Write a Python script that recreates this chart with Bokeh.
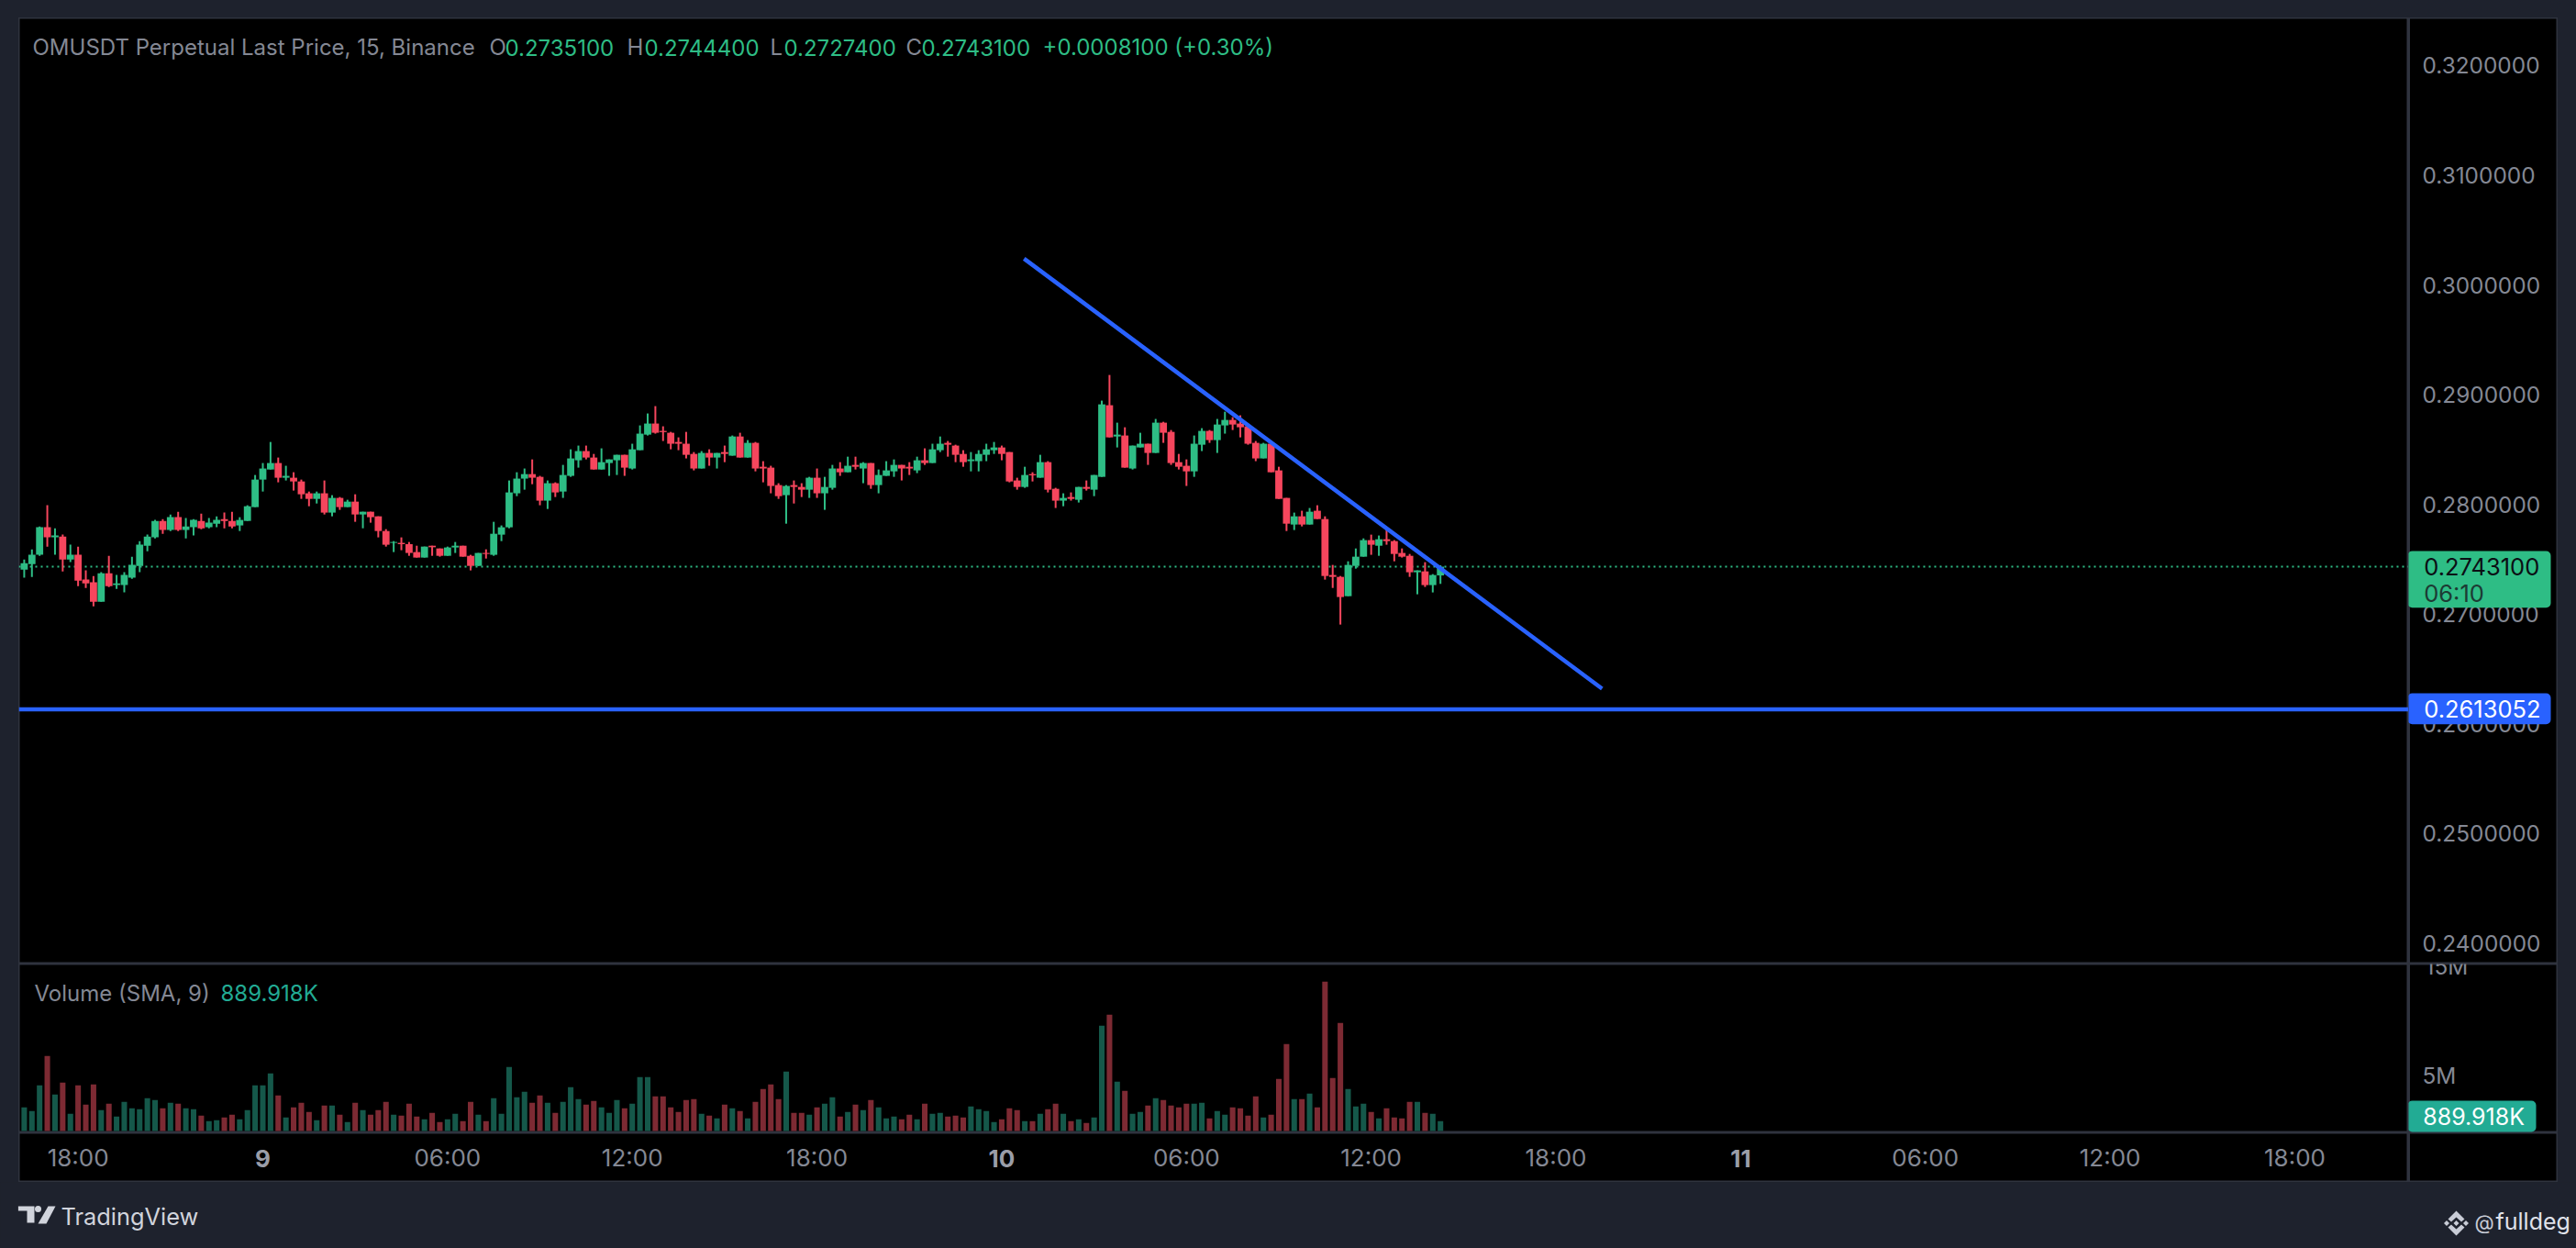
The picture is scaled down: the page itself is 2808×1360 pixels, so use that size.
from bokeh.plotting import figure
from bokeh.layouts import column, row
from bokeh.models import (Range1d, FixedTicker, NumeralTickFormatter, Label, Span, BoxAnnotation, LinearAxis)
from bokeh.embed import file_html
from bokeh.resources import INLINE

open_ = [
0.27405,0.27455,0.27539,0.27790,0.27698,0.27706,0.27497,0.27539,0.27313,0.27288,
0.27112,0.27371,0.27263,0.27263,0.27330,0.27438,0.27622,0.27698,0.27848,0.27765,
0.27882,0.27765,0.27790,0.27848,0.27790,0.27823,0.27865,0.27848,0.27807,0.27848,
0.27974,0.28225,0.28317,0.28376,0.28242,0.28242,0.28208,0.28100,0.28049,0.28100,
0.27924,0.28058,0.27974,0.28024,0.27907,0.27932,0.27890,0.27756,0.27648,0.27648,
0.27636,0.27564,0.27514,0.27622,0.27597,0.27530,0.27606,0.27622,0.27530,0.27438,
0.27556,0.27539,0.27723,0.27790,0.28100,0.28234,0.28275,0.28250,0.28033,0.28192,
0.28116,0.28259,0.28401,0.28485,0.28426,0.28317,0.28376,0.28401,0.28451,0.28326,
0.28493,0.28635,0.28736,0.28669,0.28652,0.28568,0.28552,0.28459,0.28326,0.28468,
0.28426,0.28476,0.28443,0.28618,0.28426,0.28560,0.28342,0.28334,0.28175,0.28083,
0.28175,0.28158,0.28133,0.28242,0.28100,0.28150,0.28326,0.28292,0.28359,0.28326,
0.28376,0.28175,0.28259,0.28300,0.28359,0.28342,0.28309,0.28401,0.28376,0.28493,
0.28560,0.28535,0.28459,0.28393,0.28393,0.28451,0.28493,0.28518,0.28476,0.28217,
0.28158,0.28275,0.28242,0.28384,0.28141,0.28033,0.28066,0.28041,0.28158,0.28133,
0.28250,0.28903,0.28618,0.28627,0.28326,0.28518,0.28552,0.28468,0.28744,0.28660,
0.28384,0.28351,0.28300,0.28543,0.28669,0.28585,0.28719,0.28769,0.28736,0.28711,
0.28560,0.28418,0.28552,0.28309,0.28058,0.27815,0.27890,0.27815,0.27941,0.27865,
0.27355,0.27338,0.27162,0.27438,0.27522,0.27673,0.27622,0.27681,0.27664,0.27556,
0.27530,0.27380,0.27388,0.27263,0.27351]
high = [
0.27497,0.27589,0.27798,0.27991,0.27781,0.27723,0.27631,0.27614,0.27397,0.27346,
0.27380,0.27530,0.27355,0.27380,0.27522,0.27664,0.27723,0.27857,0.27865,0.27907,
0.27932,0.27874,0.27865,0.27915,0.27874,0.27890,0.27924,0.27932,0.27882,0.27991,
0.28267,0.28376,0.28568,0.28426,0.28351,0.28292,0.28225,0.28116,0.28116,0.28217,
0.28083,0.28066,0.28041,0.28091,0.27932,0.27932,0.27890,0.27773,0.27664,0.27698,
0.27656,0.27622,0.27614,0.27622,0.27597,0.27614,0.27656,0.27622,0.27539,0.27556,
0.27589,0.27840,0.27807,0.28217,0.28292,0.28326,0.28409,0.28259,0.28217,0.28200,
0.28359,0.28501,0.28535,0.28535,0.28459,0.28510,0.28409,0.28451,0.28451,0.28552,
0.28719,0.28828,0.28895,0.28711,0.28660,0.28610,0.28660,0.28476,0.28485,0.28501,
0.28468,0.28535,0.28627,0.28652,0.28585,0.28568,0.28393,0.28351,0.28192,0.28175,
0.28217,0.28192,0.28250,0.28326,0.28250,0.28359,0.28384,0.28434,0.28434,0.28384,
0.28376,0.28317,0.28393,0.28409,0.28359,0.28384,0.28434,0.28510,0.28552,0.28618,
0.28577,0.28543,0.28493,0.28476,0.28493,0.28552,0.28568,0.28535,0.28476,0.28242,
0.28342,0.28292,0.28451,0.28393,0.28150,0.28100,0.28108,0.28158,0.28217,0.28267,
0.28945,0.29179,0.28744,0.28702,0.28535,0.28652,0.28552,0.28778,0.28752,0.28677,
0.28459,0.28409,0.28627,0.28694,0.28677,0.28778,0.28844,0.28794,0.28811,0.28719,
0.28577,0.28560,0.28577,0.28342,0.28058,0.27924,0.27941,0.27966,0.27991,0.27890,
0.27447,0.27346,0.27480,0.27597,0.27689,0.27723,0.27715,0.27790,0.27673,0.27597,
0.27547,0.27397,0.27472,0.27363,0.27444]
low = [
0.27330,0.27338,0.27530,0.27614,0.27539,0.27388,0.27472,0.27254,0.27237,0.27070,
0.27112,0.27246,0.27229,0.27196,0.27321,0.27380,0.27572,0.27689,0.27731,0.27756,
0.27756,0.27689,0.27715,0.27773,0.27781,0.27790,0.27781,0.27781,0.27756,0.27848,
0.27974,0.28116,0.28317,0.28200,0.28217,0.28125,0.28049,0.27982,0.28007,0.27907,
0.27890,0.27949,0.27974,0.27840,0.27781,0.27832,0.27698,0.27614,0.27564,0.27581,
0.27530,0.27514,0.27514,0.27530,0.27522,0.27530,0.27556,0.27522,0.27397,0.27438,
0.27505,0.27530,0.27664,0.27781,0.28074,0.28133,0.28183,0.27991,0.27957,0.28066,
0.28058,0.28250,0.28334,0.28409,0.28317,0.28317,0.28259,0.28267,0.28259,0.28317,
0.28493,0.28627,0.28644,0.28577,0.28501,0.28493,0.28418,0.28309,0.28326,0.28351,
0.28326,0.28384,0.28443,0.28426,0.28426,0.28300,0.28200,0.28100,0.28049,0.27823,
0.28007,0.28066,0.28058,0.28058,0.27949,0.28133,0.28259,0.28292,0.28317,0.28192,
0.28141,0.28100,0.28259,0.28250,0.28217,0.28267,0.28284,0.28359,0.28376,0.28476,
0.28434,0.28384,0.28342,0.28300,0.28300,0.28393,0.28459,0.28401,0.28200,0.28133,
0.28150,0.28208,0.28242,0.28108,0.27966,0.27982,0.28033,0.28016,0.28125,0.28074,
0.28250,0.28610,0.28518,0.28334,0.28317,0.28518,0.28359,0.28468,0.28560,0.28359,
0.28317,0.28167,0.28250,0.28485,0.28560,0.28468,0.28644,0.28677,0.28610,0.28543,
0.28393,0.28418,0.28292,0.28049,0.27756,0.27765,0.27798,0.27815,0.27865,0.27313,
0.27237,0.26903,0.27162,0.27413,0.27522,0.27539,0.27530,0.27631,0.27480,0.27514,
0.27338,0.27179,0.27246,0.27196,0.27274]
close = [
0.27463,0.27539,0.27790,0.27698,0.27715,0.27497,0.27539,0.27304,0.27279,0.27112,
0.27371,0.27254,0.27279,0.27355,0.27447,0.27631,0.27706,0.27848,0.27765,0.27882,
0.27765,0.27798,0.27857,0.27781,0.27832,0.27857,0.27848,0.27798,0.27857,0.27982,
0.28225,0.28326,0.28376,0.28242,0.28259,0.28208,0.28091,0.28049,0.28100,0.27924,
0.28058,0.27974,0.28024,0.27907,0.27932,0.27882,0.27756,0.27631,0.27656,0.27636,
0.27556,0.27514,0.27614,0.27608,0.27530,0.27606,0.27622,0.27522,0.27438,0.27556,
0.27547,0.27731,0.27790,0.28108,0.28234,0.28275,0.28242,0.28033,0.28192,0.28108,
0.28267,0.28418,0.28485,0.28426,0.28317,0.28384,0.28409,0.28451,0.28334,0.28501,
0.28644,0.28736,0.28652,0.28658,0.28552,0.28552,0.28451,0.28326,0.28468,0.28426,
0.28468,0.28459,0.28618,0.28426,0.28560,0.28326,0.28326,0.28167,0.28074,0.28167,
0.28158,0.28133,0.28242,0.28100,0.28158,0.28326,0.28292,0.28351,0.28342,0.28376,
0.28175,0.28267,0.28309,0.28359,0.28326,0.28326,0.28401,0.28376,0.28501,0.28552,
0.28543,0.28451,0.28384,0.28409,0.28459,0.28501,0.28518,0.28459,0.28208,0.28158,
0.28267,0.28264,0.28384,0.28133,0.28033,0.28058,0.28049,0.28158,0.28141,0.28267,
0.28911,0.28610,0.28635,0.28334,0.28535,0.28552,0.28468,0.28744,0.28652,0.28376,
0.28342,0.28300,0.28552,0.28669,0.28585,0.28727,0.28769,0.28727,0.28702,0.28552,
0.28418,0.28552,0.28292,0.28049,0.27823,0.27890,0.27815,0.27932,0.27865,0.27346,
0.27338,0.27154,0.27447,0.27522,0.27673,0.27631,0.27681,0.27664,0.27547,0.27522,
0.27380,0.27397,0.27263,0.27355,0.27431]
volume_m = [
2.14,1.81,4.14,6.81,3.31,4.39,1.56,4.14,2.39,4.22,
1.89,2.47,1.31,2.64,2.06,1.97,2.97,2.81,2.06,2.56,
2.47,2.06,1.97,1.39,0.89,0.97,1.22,1.47,1.06,1.89,
4.14,4.14,5.22,3.22,1.22,2.14,2.56,1.72,0.97,2.31,
2.31,1.47,0.81,2.56,1.89,1.47,1.89,2.64,1.47,1.39,
2.47,1.31,1.06,1.64,0.81,1.06,1.56,0.89,2.64,1.47,
0.89,2.97,1.56,5.81,3.06,3.56,2.56,3.22,2.56,1.64,
2.64,3.97,2.89,2.39,2.72,2.14,1.64,2.81,2.06,2.47,
4.89,4.89,3.14,3.14,2.14,1.72,2.81,2.89,1.56,1.39,
1.14,2.39,2.06,1.81,1.14,2.64,3.81,4.22,2.89,5.39,
1.64,1.64,1.47,2.14,2.47,3.06,1.31,1.72,2.39,1.89,
2.81,2.14,1.14,1.31,1.06,1.47,1.06,2.47,1.56,1.64,
1.31,1.39,1.22,2.22,1.97,1.81,0.81,1.06,2.06,1.89,
0.89,0.89,1.56,1.97,2.47,1.56,0.89,1.06,0.72,1.22,
9.56,10.56,4.47,3.64,1.56,1.72,2.31,2.97,2.81,2.31,
2.14,2.47,2.47,2.56,1.14,1.81,1.47,2.14,2.06,1.39,
3.14,1.22,1.47,4.72,7.89,2.89,2.89,3.39,2.14,13.56,
4.81,9.81,3.81,2.22,2.47,1.72,1.14,2.06,1.22,1.14,
2.64,2.64,1.64,1.56,0.89]

price_ticks = [0.24,0.25,0.26,0.27,0.28,0.29,0.30,0.31,0.32]
volume_ticks = {5: "5M"}
volume_top_tick = (15, "15M")
hour_ticks = {7:"18:00",55:"06:00",79:"12:00",103:"18:00",151:"06:00",175:"12:00",199:"18:00",247:"06:00",271:"12:00",295:"18:00"}
day_ticks = {31:"9",127:"10",223:"11"}
last_price = 0.27431
alert_price = 0.2613052
sma_label = "889.918K"
trend_x = [129.9, 205.0]
trend_y = [0.3024, 0.26318]

BG, LINE = "#1e222d", "#2f333e"
UP, DOWN, VUP, VDOWN = "#2ebd85", "#f6465d", "#15584a", "#7d2a33"
BLUE, GREY = "#2962ff", "#848894"
FONT = "Inter"
SZ = "24px"

x_rng = Range1d(-0.703, 309.78)
price_rng = Range1d(0.23808, 0.32435)
vol_rng = Range1d(-0.167, 15.167)

def lab(p, x, y, text, color, y_units="data", x_units="data", size=SZ):
    p.add_layout(Label(x=x, y=y, x_units=x_units, y_units=y_units, text=text, text_color=color,
                       text_font=FONT, text_font_size=size, text_align="left", text_baseline="middle",
                       level="overlay"))

def pane(w, h, xr, yr):
    p = figure(width=w, height=h, output_backend="svg", toolbar_location=None, tools="",
               x_range=xr, y_range=yr, x_axis_location=None, y_axis_location=None,
               background_fill_color="black", border_fill_color="black",
               outline_line_color=LINE, outline_line_width=2,
               min_border=0, min_border_left=0, min_border_right=0, min_border_top=0, min_border_bottom=0)
    p.grid.visible = False
    p.frame_align = False
    return p

def style_axis(a, size="24.4px", color=GREY, standoff=9):
    a.axis_line_color = None
    a.major_tick_line_color = None
    a.minor_tick_line_color = None
    a.major_label_text_color = color
    a.major_label_text_font = FONT
    a.major_label_text_font_size = size
    a.major_label_standoff = standoff

def tag(p, top, bottom, right, color):
    p.add_layout(BoxAnnotation(left=-1, right=right, top=top, bottom=bottom, fill_color=color, fill_alpha=1,
                               line_color=None, border_radius=5, level="overlay"))

xs = list(range(len(close)))
up = [c >= o for o, c in zip(open_, close)]
cols = [UP if u else DOWN for u in up]
vcols = [VUP if u else VDOWN for u in up]

# price pane
p1 = pane(2605, 1031, x_rng, price_rng)
p1.add_layout(Span(location=last_price, dimension="width", line_color=UP, line_width=2, line_dash="2 4", level="underlay"))
p1.segment(xs, low, xs, high, color=cols, line_width=2)
p1.vbar(x=xs, width=0.93, top=[max(a, b) for a, b in zip(open_, close)],
        bottom=[min(a, b) for a, b in zip(open_, close)], fill_color=cols, line_color=None)
p1.add_layout(Span(location=alert_price, dimension="width", line_color=BLUE, line_width=4.5))
p1.line(trend_x, trend_y, line_color=BLUE, line_width=4.5)
lab(p1, 15, 999, "OMUSDT Perpetual Last Price, 15, Binance", GREY, "screen", "screen")
for x, t, c in [(513, "O", GREY), (530, "0.2735100", UP), (663, "H", GREY), (682, "0.2744400", UP),
                (819, "L", GREY), (834, "0.2727400", UP), (967, "C", GREY), (984, "0.2743100", UP),
                (1116, "+0.0008100 (+0.30%)", UP)]:
    lab(p1, x, 999, t, c, "screen", "screen")

# price axis strip
r1 = pane(163, 1031, Range1d(0, 163), price_rng)
ax1 = LinearAxis(fixed_location=0, ticker=FixedTicker(ticks=price_ticks),
                 formatter=NumeralTickFormatter(format="0.0000000"))
style_axis(ax1)
r1.add_layout(ax1, "right")
r1.add_layout(Span(location=0, dimension="height", line_color=LINE, line_width=3))
tag(r1, 0.27573, 0.27057, 155, UP)
lab(r1, 16.7, last_price + 0.00001, "0.2743100", "#0b0e14", size="25.5px")
lab(r1, 16.7, 0.27192, "06:10", "#1c3b34", size="25.5px")
tag(r1, 0.26276, 0.25994, 155, BLUE)
lab(r1, 16.7, alert_price, "0.2613052", "white", size="25.5px")

# volume pane
p2 = pane(2605, 184, x_rng, vol_rng)
p2.vbar(x=xs, width=0.72, top=volume_m, bottom=0, fill_color=vcols, line_color=None)
lab(p2, 17, 152, "Volume (SMA, 9)", GREY, "screen", "screen")
lab(p2, 220, 152, sma_label, "#22ab94", "screen", "screen")

# volume axis strip
r2 = pane(163, 184, Range1d(0, 163), vol_rng)
ax2 = LinearAxis(fixed_location=0, ticker=FixedTicker(ticks=list(volume_ticks)),
                 major_label_overrides=volume_ticks)
style_axis(ax2)
r2.add_layout(ax2, "right")
r2.add_layout(Span(location=0, dimension="height", line_color=LINE, line_width=3))
lab(r2, 18, volume_top_tick[0], volume_top_tick[1], GREY, size="24.4px")
tag(r2, 2.75, -0.083, 139, "#22ab94")
lab(r2, 15.7, 1.33, sma_label, "white", size="25px")

# time axis strip
t1 = pane(2605, 54, x_rng, Range1d(0, 54))
ax3 = LinearAxis(fixed_location=54, ticker=FixedTicker(ticks=list(hour_ticks)), major_label_overrides=hour_ticks)
style_axis(ax3, size="26px", standoff=5)
t1.add_layout(ax3, "below")
ax4 = LinearAxis(fixed_location=54, ticker=FixedTicker(ticks=list(day_ticks)), major_label_overrides=day_ticks)
style_axis(ax4, size="26px", color="#9a9da8", standoff=12)
ax4.major_label_text_font_style = "bold"
t1.add_layout(ax4, "below")

c1 = pane(163, 54, Range1d(0, 163), Range1d(0, 54))
c1.add_layout(Span(location=0, dimension="height", line_color=LINE, line_width=3))

# footer
f = figure(width=2808, height=71, output_backend="svg", toolbar_location=None, tools="",
           x_range=Range1d(0, 2808), y_range=Range1d(1360, 1289), x_axis_location=None, y_axis_location=None,
           background_fill_color=BG, border_fill_color=BG, outline_line_color=None,
           min_border=0, min_border_left=0, min_border_right=0, min_border_top=0, min_border_bottom=0)
f.grid.visible = False
f.frame_align = False
LOGO = "#d1d4dc"
f.patches([[19.4, 37, 37, 29, 29, 19.4], [52, 60, 50, 41]],
          [[1315, 1315, 1333, 1333, 1320, 1320], [1315, 1315, 1334, 1334]], fill_color=LOGO, line_color=None)
f.circle([41], [1318], radius=3.5, fill_color=LOGO, line_color=None)
f.text([66], [1326], text=["TradingView"], text_color=LOGO, text_font={"value": FONT},
       text_font_size="25.4px", text_baseline="middle")
M = "#c8ccd6"
f.patches([[2677, 2686, 2682.5, 2677, 2671.5, 2668], [2677, 2686, 2682.5, 2677, 2671.5, 2668],
           [2663.5, 2666.5, 2669.5, 2666.5], [2684.5, 2687.5, 2690.5, 2687.5], [2674, 2677, 2680, 2677]],
          [[1320, 1329, 1332, 1327, 1332, 1329], [1347, 1338, 1335, 1340, 1335, 1338],
           [1333.5, 1330.5, 1333.5, 1336.5], [1333.5, 1330.5, 1333.5, 1336.5], [1333.5, 1330.5, 1333.5, 1336.5]],
          fill_color=M, line_color=None)
f.text([2697], [1332], text=["@"], text_color=M, text_font={"value": FONT}, text_font_size="22px", text_baseline="middle")
f.text([2720], [1331], text=["fulldeg"], text_color="#e0e3eb", text_font={"value": FONT}, text_font_size="25px", text_baseline="middle")

chart = row(column(p1, p2, t1, spacing=0), column(r1, r2, c1, spacing=0), spacing=0)
chart.margin = (19, 0, 0, 20)
layout = column(chart, f, spacing=0)
html = file_html(layout, INLINE)
html = html.replace("<head>", "<head><style>html,body{background:#1e222d}</style>", 1)
open("out.html", "w").write(html)
